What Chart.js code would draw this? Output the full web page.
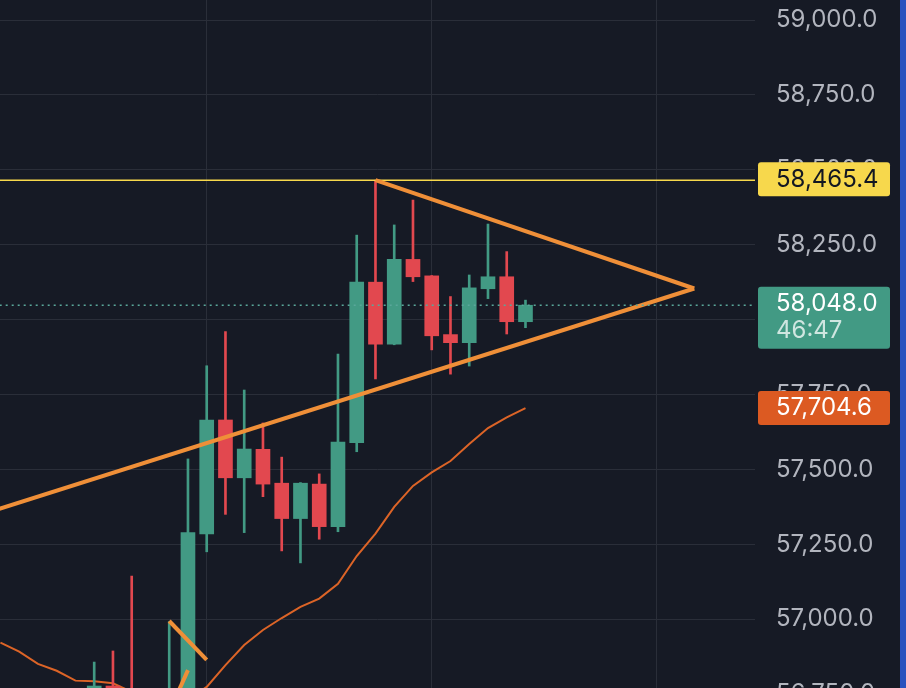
<!DOCTYPE html>
<html>
<head>
<meta charset="utf-8">
<script src="https://cdn.jsdelivr.net/npm/chart.js@4.4.1/dist/chart.umd.min.js"></script>
<style>
  html, body { margin: 0; padding: 0; overflow: hidden; background: #2a52be; }
  #wrap { width: 900px; height: 688px; overflow: hidden; background: #161a25; }
  canvas { display: block; }
</style>
</head>
<body>
<div id="wrap"><canvas id="chart" width="900" height="720"></canvas></div>
<script>
// candles, one per bar slot (index 0 is at the left edge)
const opens  = [56740, 56710, 56680, 56700, 56670, 56745, 56777, 56750, 56700, 56690,
                56740, 57285, 57665, 57472, 57567, 57454, 57336, 57451, 57309, 57589,
                58125, 57918, 58201, 58146, 57950, 57923, 58103, 58143, 57993];
const highs  = [56765, 56745, 56720, 56740, 56730, 56857, 56894, 57144, 56755, 56992,
                57535, 57846, 57960, 57765, 57655, 57541, 57456, 57485, 57885, 58282,
                58465.4, 58316, 58399, 58147, 58077, 58149, 58319, 58227, 58065];
const lows   = [56690, 56660, 56640, 56650, 56630, 56725, 56730, 56670, 56640, 56670,
                56720, 57225, 57350, 57289, 57409, 57228, 57188, 57267, 57292, 57559,
                57802, 57916, 58127, 57899, 57818, 57845, 58070, 57952, 57973];
const closes = [56710, 56680, 56700, 56670, 56720, 56777, 56750, 56700, 56690, 56740,
                57289, 57665, 57472, 57568, 57451, 57336, 57454, 57309, 57591, 58125,
                57918, 58201, 58143, 57946, 57923, 58106, 58143, 57993, 58048];

// moving average (thin orange)
const maValues = [56922, 56892, 56851, 56828, 56795, 56793, 56786, 56757, 56730, 56714,
                  56730, 56774, 56847, 56914, 56964, 57004, 57041, 57069, 57118, 57211,
                  57286, 57375, 57445, 57490, 57528, 57585, 57638, 57674, 57704.6];

// drawings
const triangleUpper = [[20, 58465.4], [37, 58103.8]];
const triangleLower = [[-1, 57349.7], [37, 58103.8]];
const oldLegA = [[9, 56994], [11, 56864]];
const oldLegB = [[9.5, 56760], [10, 56830]];

const highLine = 58465.4;
const lastPrice = 58048.0;
const countdown = '46:47';
const maLast = 57704.6;

const yTickStep = 250;
const timeGridAt = [11, 23, 35];

const GREEN = '#429a84';
const RED = '#e2484f';
const ORANGE = '#ef8f38';
const MA_COLOR = '#dc6427';
const YELLOW = '#f7d84c';
const FONT = 'Inter, "Liberation Sans", sans-serif';
const FONT_SIZE = 24;

const idx = closes.map((c, i) => i);
const candleColors = closes.map((c, i) => c >= opens[i] ? GREEN : RED);
const pts = arr => arr.map(p => ({ x: p[0], y: p[1] }));
const fmt = v => v.toLocaleString('en-US', { minimumFractionDigits: 1, maximumFractionDigits: 1 });

function lineSet(data, color, width, order, dash) {
    return {
        type: 'line', data: data, borderColor: color, borderWidth: width,
        borderDash: dash || [], pointRadius: 0, tension: 0, fill: false, order: order
    };
}

// price boxes on the right axis
const priceBoxes = {
    id: 'priceBoxes',
    afterDraw(chart) {
        const ctx = chart.ctx;
        const y = chart.scales.y;
        const left = chart.chartArea.right + 3;
        const w = 132;
        const tx = chart.chartArea.right + 21;

        function box(top, h, color) {
            ctx.fillStyle = color;
            ctx.beginPath();
            ctx.roundRect(left, top, w, h, 3);
            ctx.fill();
        }

        ctx.save();
        ctx.font = FONT_SIZE + 'px ' + FONT;
        ctx.textBaseline = 'middle';
        ctx.textAlign = 'left';

        let py = y.getPixelForValue(highLine);
        box(py - 18, 34, YELLOW);
        ctx.fillStyle = '#131722';
        ctx.fillText(fmt(highLine), tx, py);

        py = y.getPixelForValue(lastPrice);
        box(py - 18.5, 62, GREEN);
        ctx.fillStyle = '#ffffff';
        ctx.fillText(fmt(lastPrice), tx, py - 1);
        ctx.fillStyle = 'rgba(255,255,255,0.75)';
        ctx.fillText(countdown, tx, py + 26);

        py = y.getPixelForValue(maLast);
        box(py - 17, 34, '#dc5a22');
        ctx.fillStyle = '#ffffff';
        ctx.fillText(fmt(maLast), tx, py);
        ctx.restore();
    }
};

new Chart(document.getElementById('chart'), {
    type: 'bar',
    data: {
        datasets: [
            lineSet([{ x: -1, y: lastPrice }, { x: 41, y: lastPrice }], '#5aa79a', 1.5, 0, [2, 4]),
            lineSet(pts(triangleUpper), ORANGE, 4, 1),
            lineSet(pts(triangleLower), ORANGE, 4, 1),
            lineSet(pts(oldLegA), ORANGE, 4, 1),
            lineSet(pts(oldLegB), ORANGE, 4, 1),
            lineSet([{ x: -1, y: highLine }, { x: 41, y: highLine }], YELLOW, 1.5, 2),
            {
                label: 'body',
                data: idx.map(i => ({ x: i, y: [opens[i], closes[i]] })),
                backgroundColor: candleColors,
                barThickness: 14, grouped: false, order: 3
            },
            {
                label: 'wick',
                data: idx.map(i => ({ x: i, y: [lows[i], highs[i]] })),
                backgroundColor: candleColors,
                barThickness: 2, grouped: false, order: 4
            },
            lineSet(idx.map(i => ({ x: i, y: maValues[i] })), MA_COLOR, 2, 5)
        ]
    },
    options: {
        responsive: false,
        animation: false,
        layout: { padding: 0 },
        plugins: { legend: { display: false }, tooltip: { enabled: false } },
        scales: {
            x: {
                type: 'linear',
                offset: false,
                min: -0.024,
                max: 40.24,
                afterBuildTicks: axis => { axis.ticks = timeGridAt.map(v => ({ value: v })); },
                afterFit: axis => { axis.height = 0; axis.paddingLeft = 0; axis.paddingRight = 0; },
                ticks: { display: false },
                grid: { color: '#2a2e39', drawTicks: false, offset: false },
                border: { display: false }
            },
            y: {
                position: 'right',
                offset: false,
                min: 56663.6,
                max: 59066.8,
                afterFit: axis => { axis.width = 145; axis.paddingTop = 0; axis.paddingBottom = 0; },
                ticks: {
                    stepSize: yTickStep,
                    includeBounds: false,
                    padding: 21,
                    color: '#b2b5be',
                    font: { family: FONT, size: FONT_SIZE },
                    callback: v => fmt(v)
                },
                grid: { color: '#2a2e39', drawTicks: false, offset: false },
                border: { display: false }
            }
        }
    },
    plugins: [priceBoxes]
});
</script>
</body>
</html>
